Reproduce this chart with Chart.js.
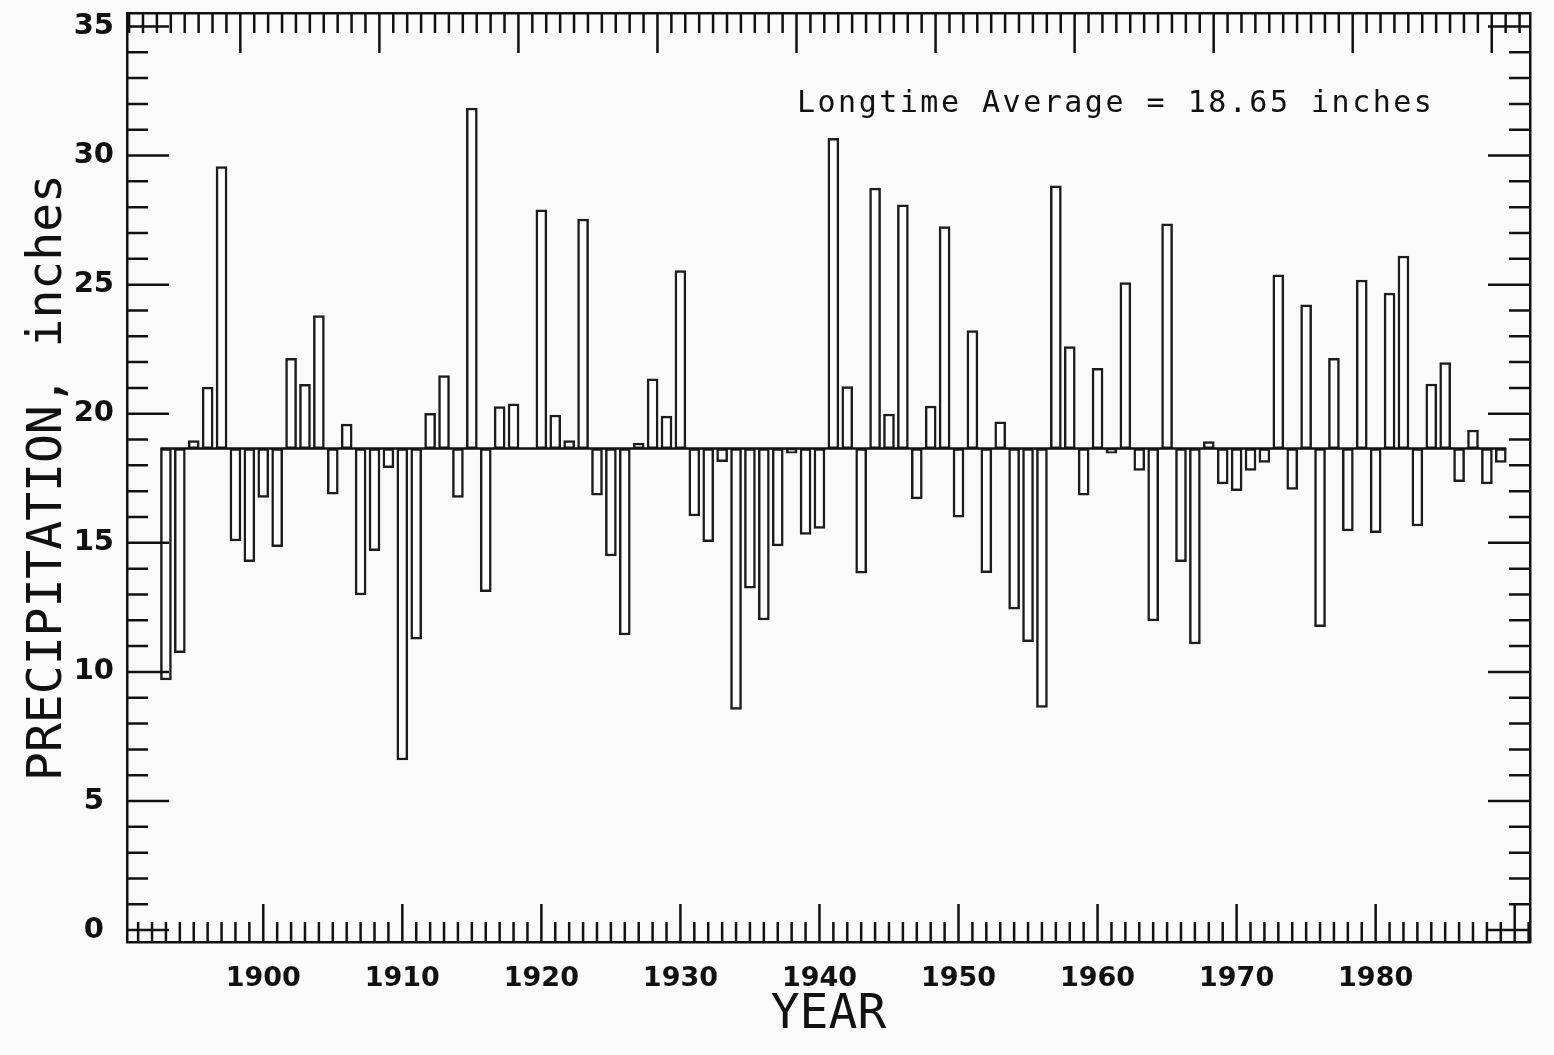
<!DOCTYPE html>
<html>
<head>
<meta charset="utf-8">
<script src="https://cdn.jsdelivr.net/npm/chart.js@4.4.0/dist/chart.umd.min.js"></script>
<style>
  html, body { margin: 0; padding: 0; background: #fafafa; }
  canvas { display: block; }
</style>
</head>
<body>
<canvas id="precip-chart" width="1554" height="1055"></canvas>
<script>
// annual precipitation, inches
const years = [
  1893, 1894, 1895, 1896, 1897, 1898, 1899, 1900, 1901, 1902,
  1903, 1904, 1905, 1906, 1907, 1908, 1909, 1910, 1911, 1912,
  1913, 1914, 1915, 1916, 1917, 1918, 1919, 1920, 1921, 1922,
  1923, 1924, 1925, 1926, 1927, 1928, 1929, 1930, 1931, 1932,
  1933, 1934, 1935, 1936, 1937, 1938, 1939, 1940, 1941, 1942,
  1943, 1944, 1945, 1946, 1947, 1948, 1949, 1950, 1951, 1952,
  1953, 1954, 1955, 1956, 1957, 1958, 1959, 1960, 1961, 1962,
  1963, 1964, 1965, 1966, 1967, 1968, 1969, 1970, 1971, 1972,
  1973, 1974, 1975, 1976, 1977, 1978, 1979, 1980, 1981, 1982,
  1983, 1984, 1985, 1986, 1987, 1988, 1989
];
const precipitation = [
  9.69, 10.75, 18.96, 21.03, 29.57, 15.07, 14.27, 16.76, 14.85, 22.15,
  21.14, 23.80, 16.88, 19.60, 12.98, 14.70, 17.91, 6.59, 11.27, 20.02,
  21.48, 16.76, 31.84, 13.11, 20.28, 20.38, 18.65, 27.90, 19.95, 18.96,
  27.54, 16.85, 14.49, 11.43, 18.86, 21.35, 19.91, 25.54, 16.04, 15.04,
  18.14, 8.55, 13.24, 12.01, 14.88, 18.47, 15.33, 15.56, 30.67, 21.05,
  13.82, 28.74, 19.99, 28.09, 16.70, 20.30, 27.25, 15.99, 23.22, 13.84,
  19.69, 12.43, 11.17, 8.63, 28.83, 22.60, 16.85, 21.76, 18.47, 25.08,
  17.80, 11.98, 27.35, 14.27, 11.08, 18.92, 17.28, 17.02, 17.80, 18.11,
  25.38, 17.07, 24.22, 11.75, 22.15, 15.46, 25.18, 15.39, 24.67, 26.11,
  15.65, 21.15, 21.98, 17.37, 19.37, 17.28, 18.11
];
const average = 18.65;
const yearTicks = [1900, 1910, 1920, 1930, 1940, 1950, 1960, 1970, 1980];
const precipTicks = [0, 5, 10, 15, 20, 25, 30, 35];

const ink = '#111';

// white page
const paper = {
    id: 'paper',
    beforeDraw(chart) {
        const ctx = chart.ctx;
        ctx.save();
        ctx.fillStyle = '#fafafa';
        ctx.fillRect(0, 0, chart.width, chart.height);
        ctx.restore();
    }
};

// tick marks pointing into the plot, on all four sides
const inwardTicks = {
    id: 'inwardTicks',
    afterDraw(chart) {
        const { ctx, chartArea: a, scales } = chart;
        const x = scales.x, xTop = scales.xTop, y = scales.y;
        ctx.save();
        ctx.strokeStyle = ink;
        ctx.lineWidth = 2.5;
        ctx.beginPath();
        for (let v = 0; v <= 35; v++) {
            const py = y.getPixelForValue(v);
            const len = v % 5 === 0 ? 42 : 21;
            ctx.moveTo(a.left, py); ctx.lineTo(a.left + len, py);
            ctx.moveTo(a.right, py); ctx.lineTo(a.right - len, py);
        }
        for (let yr = Math.ceil(x.min); yr < x.max; yr++) {
            const px = x.getPixelForValue(yr);
            const len = yr % 10 === 0 ? 38 : 20;
            ctx.moveTo(px, a.bottom); ctx.lineTo(px, a.bottom - len);
        }
        for (let yr = Math.ceil(xTop.min); yr < xTop.max; yr++) {
            const px = xTop.getPixelForValue(yr);
            const len = yr % 10 === 0 ? 40 : 20;
            ctx.moveTo(px, a.top); ctx.lineTo(px, a.top + len);
        }
        ctx.stroke();
        ctx.restore();
    }
};

const averageNote = {
    id: 'averageNote',
    afterDraw(chart) {
        const ctx = chart.ctx;
        ctx.save();
        ctx.fillStyle = ink;
        ctx.font = '30px "DejaVu Sans Mono"';
        ctx.letterSpacing = '2.5px';
        ctx.textAlign = 'left';
        ctx.textBaseline = 'alphabetic';
        ctx.fillText('Longtime Average = ' + average.toFixed(2) + ' inches', 797, 112);
        ctx.restore();
    }
};

const frame = { display: true, color: ink, width: 2.5 };

new Chart('precip-chart', {
    type: 'bar',
    data: {
        datasets: [
            {
                type: 'line',
                data: [
                    { x: years[0] - 0.4, y: average },
                    { x: years[years.length - 1] + 0.4, y: average }
                ],
                borderColor: ink,
                borderWidth: 2.5,
                pointRadius: 0,
                order: 0
            },
            {
                type: 'bar',
                data: years.map((yr, i) => ({ x: yr, y: [average, precipitation[i]] })),
                backgroundColor: '#ffffff',
                borderColor: '#1c1c1c',
                borderWidth: 2.5,
                borderSkipped: false,
                barThickness: 11,
                order: 1
            }
        ]
    },
    options: {
        responsive: false,
        animation: false,
        layout: { padding: 0 },
        plugins: {
            legend: { display: false },
            tooltip: { enabled: false }
        },
        scales: {
            x: {
                type: 'linear',
                position: 'bottom',
                min: 1890.2,
                max: 1991.1,
                offset: false,
                afterBuildTicks: s => { s.ticks = yearTicks.map(v => ({ value: v })); },
                afterFit: s => { s.height = 113; s.paddingLeft = 0; s.paddingRight = 0; },
                grid: { display: false, drawTicks: false },
                border: frame,
                ticks: {
                    font: { family: 'DejaVu Sans', size: 27, weight: 'bold' },
                    color: ink,
                    padding: 21,
                    maxRotation: 0,
                    autoSkip: false,
                    callback: v => String(v)
                },
                title: {
                    display: true,
                    text: 'YEAR',
                    font: { family: 'DejaVu Sans Mono', size: 48 },
                    color: ink,
                    padding: { top: 0, bottom: 11 }
                }
            },
            xTop: {
                type: 'linear',
                position: 'top',
                min: 1891.85,
                max: 1992.75,
                offset: false,
                afterFit: s => { s.height = 13; s.paddingLeft = 0; s.paddingRight = 0; },
                grid: { display: false, drawTicks: false },
                border: frame,
                ticks: { display: false }
            },
            y: {
                type: 'linear',
                position: 'left',
                min: -0.46,
                max: 35.52,
                afterBuildTicks: s => { s.ticks = precipTicks.map(v => ({ value: v })); },
                afterFit: s => { s.width = 127; s.paddingTop = 0; s.paddingBottom = 0; },
                grid: { display: false, drawTicks: false },
                border: frame,
                ticks: {
                    font: { family: 'DejaVu Sans', size: 29, weight: 'bold' },
                    color: ink,
                    padding: 13,
                    crossAlign: 'center',
                    callback: v => String(v)
                },
                title: {
                    display: true,
                    text: 'PRECIPITATION, inches',
                    font: { family: 'DejaVu Sans Mono', size: 48 },
                    color: ink,
                    padding: { top: 20, bottom: 0 }
                }
            },
            yRight: {
                type: 'linear',
                position: 'right',
                min: -0.46,
                max: 35.52,
                afterFit: s => { s.width = 24; s.paddingTop = 0; s.paddingBottom = 0; },
                grid: { display: false, drawTicks: false },
                border: frame,
                ticks: { display: false }
            }
        }
    },
    plugins: [paper, inwardTicks, averageNote]
});
</script>
</body>
</html>
